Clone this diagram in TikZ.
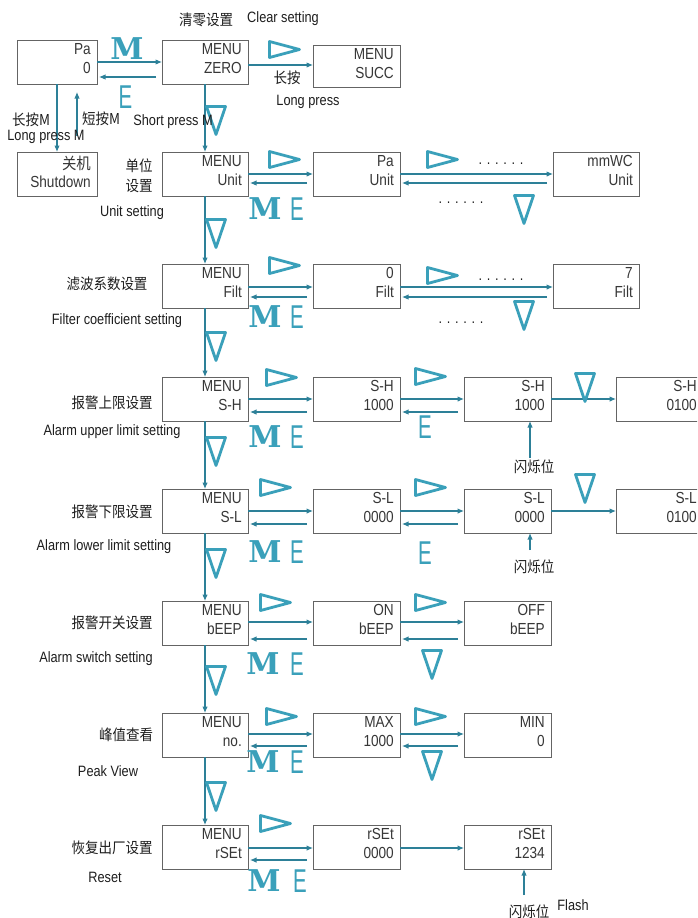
\documentclass[tikz,border=0pt]{standalone}
\usepackage{fontspec}
\setmainfont[FakeStretch=0.85]{Liberation Sans}
\newfontfamily\cjk[FakeStretch=0.9]{Noto Sans CJK SC}
\newfontfamily\mfont{DejaVu Serif}
\newfontfamily\efont[FakeStretch=0.62]{Liberation Sans}
\usetikzlibrary{arrows.meta,calc}
\definecolor{arr}{RGB}{45,128,152}
\definecolor{sym}{RGB}{58,160,186}
\definecolor{boxc}{RGB}{100,100,100}
\definecolor{txt}{RGB}{55,55,55}
\definecolor{lblc}{RGB}{30,30,30}
\tikzset{
 box/.style={draw=boxc, line width=0.9pt, anchor=north west, inner sep=0pt, outer sep=0pt},
 btxt/.style={anchor=north east, inner sep=0pt, align=right, text=txt, font=\fontsize{16}{18.5}\selectfont},
 lbl/.style={inner sep=0pt, text=lblc, font=\fontsize{15}{18}\selectfont},
 clbl/.style={inner sep=0pt, text=lblc, font=\cjk\fontsize{15}{20}\selectfont},
 conn/.style={draw=arr, line width=1.1pt, -{Latex[length=6.5pt,width=5.5pt]}},
 tri/.style={draw=sym, line width=2.8pt, line join=round},
 mlet/.style={inner sep=0pt, text=sym, font=\mfont\bfseries\fontsize{30}{30}\selectfont},
 elet/.style={inner sep=0pt, text=sym, font=\efont\fontsize{33}{33}\selectfont},
 dotrow/.style={inner sep=0pt, anchor=base, text=lblc, font=\fontsize{15}{18}\selectfont},
}
\newcommand\bx[7]{\node[box, minimum width=#4pt, minimum height=#5pt] (#1) at (#2,#3) {};
 \node[btxt] (#1t) at ($(#1.north east)+(-6,3.5)$) {#6\\#7};}
\newcommand\rtri[2]{\draw[tri] (#1+1.5,#2+1.5) -- (#1+31.5,#2+9.5) -- (#1+1.5,#2+17.5) -- cycle;}
\newcommand\dtri[2]{\draw[tri] (#1+1.5,#2+1.5) -- (#1+20.5,#2+1.5) -- (#1+11,#2+29.5) -- cycle;}
\newcommand\fw[3]{\draw[conn] ($(#1.north east)+(0,#3)$) -- ($(#2.north west)+(0,#3)$);}
\newcommand\bk[3]{\draw[conn] ($(#2.north west)+(-6,#3)$) -- ($(#1.north east)+(2,#3)$);}
\begin{document}
\begin{tikzpicture}[x=1pt,y=-1pt]
\useasboundingbox (0,0) rectangle (697,918);
\fill[white] (0,0) rectangle (697,918);
\clip (0,0) rectangle (697,918);

% ---------- boxes ----------
\bx{pa}{17}{40}{80}{44}{Pa}{0}
\bx{zero}{162}{40}{86}{44}{MENU}{ZERO}
\bx{succ}{313}{45}{87}{42}{MENU}{SUCC}
\bx{sd}{17}{152}{80}{44}{{\cjk 关机}}{Shutdown}
\bx{u1}{162}{152}{86}{44}{MENU}{Unit}
\bx{u2}{313}{152}{87}{44}{Pa}{Unit}
\bx{u3}{553}{152}{86}{44}{mmWC}{Unit}
\bx{f1}{162}{264}{86}{44}{MENU}{Filt}
\bx{f2}{313}{264}{87}{44}{0}{Filt}
\bx{f3}{553}{264}{86}{44}{7}{Filt}
\bx{h1}{162}{377}{86}{44}{MENU}{S-H}
\bx{h2}{313}{377}{87}{44}{S-H}{1000}
\bx{h3}{464}{377}{87}{44}{S-H}{1000}
\bx{h4}{616}{377}{87}{44}{S-H}{0100}
\bx{l1}{162}{489}{86}{44}{MENU}{S-L}
\bx{l2}{313}{489}{87}{44}{S-L}{0000}
\bx{l3}{464}{489}{87}{44}{S-L}{0000}
\bx{l4}{616}{489}{87}{44}{S-L}{0100}
\bx{b1}{162}{601}{86}{44}{MENU}{bEEP}
\bx{b2}{313}{601}{87}{44}{ON}{bEEP}
\bx{b3}{464}{601}{87}{44}{OFF}{bEEP}
\bx{p1}{162}{713}{86}{44}{MENU}{no.}
\bx{p2}{313}{713}{87}{44}{MAX}{1000}
\bx{p3}{464}{713}{87}{44}{MIN}{0}
\bx{r1}{162}{825}{86}{44}{MENU}{rSEt}
\bx{r2}{313}{825}{87}{44}{rSEt}{0000}
\bx{r3}{464}{825}{87}{44}{rSEt}{1234}

% ---------- connectors ----------
\fw{pa}{zero}{22} \bk{pa}{zero}{37}
\draw[conn] ($(zero.north east)+(0,25)$) coordinate (zs) -- (zs -| succ.west);
\draw[conn] ($(pa.south west)+(40,0)$) -- ($(sd.north west)+(40,0)$);
\coordinate (su) at (77,136); \coordinate (se) at (77,92);
\draw[conn] (su) -- (se);
\foreach \a/\b in {zero/u1,u1/f1,f1/h1,h1/l1,l1/b1,b1/p1,p1/r1}{\draw[conn] (\a.south) -- (\b.north);}
\fw{u1}{u2}{22} \bk{u1}{u2}{31} \fw{u2}{u3}{22} \bk{u2}{u3}{31}
\fw{f1}{f2}{23} \bk{f1}{f2}{33} \fw{f2}{f3}{23} \bk{f2}{f3}{33}
\fw{h1}{h2}{22} \bk{h1}{h2}{35} \fw{h2}{h3}{22} \bk{h2}{h3}{35} \fw{h3}{h4}{22}
\fw{l1}{l2}{22} \bk{l1}{l2}{35} \fw{l2}{l3}{22} \bk{l2}{l3}{35} \fw{l3}{l4}{22}
\fw{b1}{b2}{21} \bk{b1}{b2}{38} \fw{b2}{b3}{21} \bk{b2}{b3}{38}
\fw{p1}{p2}{21} \bk{p1}{p2}{33} \fw{p2}{p3}{21} \bk{p2}{p3}{33}
\fw{r1}{r2}{23} \bk{r1}{r2}{35} \fw{r2}{r3}{23}
\coordinate (fl4) at (530,458); \draw[conn] (fl4) -- (fl4 |- h3.south);
\coordinate (fl5) at (530,550); \draw[conn] (fl5) -- (fl5 |- l3.south);
\coordinate (fl8) at (524,895); \draw[conn] (fl8) -- (fl8 |- r3.south);

% ---------- triangles ----------
\rtri{268}{40}
\rtri{268}{150} \rtri{426}{150}
\rtri{268}{256} \rtri{426}{266}
\rtri{265}{368} \rtri{414}{367}
\rtri{259}{478} \rtri{414}{478}
\rtri{259}{593} \rtri{414}{593}
\rtri{265}{707} \rtri{414}{707}
\rtri{259}{814}
\dtri{205}{105} \dtri{205}{218} \dtri{205}{331} \dtri{205}{436}
\dtri{205}{548} \dtri{205}{665} \dtri{205}{781}
\dtri{513}{194} \dtri{513}{300} \dtri{574}{372} \dtri{574}{473}
\dtri{421}{649} \dtri{421}{750}

% ---------- M / E letters ----------
\node[mlet] (m1) at (127,49) {M}; \node[elet] (e1) at (125.5,97.5) {E};
\node[mlet] (m2) at (265,209) {M}; \node[elet] (e2) at (297,209) {E};
\node[mlet] (m3) at (265,317) {M}; \node[elet] (e3) at (297,317) {E};
\node[mlet] (m4) at (265,437) {M}; \node[elet] (e4) at (297,437) {E};
\node[elet] (e4b) at (425,427) {E};
\node[mlet] (m5) at (265,552) {M}; \node[elet] (e5) at (297,552) {E};
\node[elet] (e5b) at (425,553) {E};
\node[mlet] (m6) at (263,664) {M}; \node[elet] (e6) at (297,664) {E};
\node[mlet] (m7) at (263,762) {M}; \node[elet] (e7) at (297,762) {E};
\node[mlet] (m8) at (264,881) {M}; \node[elet] (e8) at (300,881) {E};

% ---------- dots ----------
\node[dotrow] (d1) at (501,164) {. . . . . .};
\node[dotrow] (d2) at (461,203) {. . . . . .};
\node[dotrow] (d3) at (501,280) {. . . . . .};
\node[dotrow] (d4) at (461,323) {. . . . . .};

% ---------- labels ----------
\node[clbl] (t1) at (206,20) {清零设置};
\node[lbl] (t2) at (283,19) {Clear setting};
\node[clbl] (t3) at (287,78) {长按};
\node[lbl] (t4) at (308,102) {Long press};
\node[clbl] (t5) at (31,120) {长按M};
\node[lbl] (t6) at (46,137) {Long press M};
\node[clbl] (t7) at (101,119) {短按M};
\node[lbl] (t8) at (173,122) {Short press M};
\node[clbl, align=center] (t9) at (139,176) {单位\\设置};
\node[lbl] (t10) at (132,213) {Unit setting};
\node[clbl] (t11) at (107,284) {滤波系数设置};
\node[lbl] (t12) at (117,321) {Filter coefficient setting};
\node[clbl] (t13) at (112,403) {报警上限设置};
\node[lbl] (t14) at (112,432) {Alarm upper limit setting};
\node[clbl] (t15) at (112,512) {报警下限设置};
\node[lbl] (t16) at (104,547) {Alarm lower limit setting};
\node[clbl] (t17) at (112,623) {报警开关设置};
\node[lbl] (t18) at (96,659) {Alarm switch setting};
\node[clbl] (t19) at (126,735) {峰值查看};
\node[lbl] (t20) at (108,771) {Peak View};
\node[clbl] (t21) at (112,848) {恢复出厂设置};
\node[lbl] (t22) at (105,877) {Reset};
\node[clbl] (t23) at (534,467) {闪烁位};
\node[clbl] (t24) at (534,567) {闪烁位};
\node[clbl] (t25) at (529,912) {闪烁位};
\node[lbl] (t26) at (573,905) {Flash};
\end{tikzpicture}
\end{document}
